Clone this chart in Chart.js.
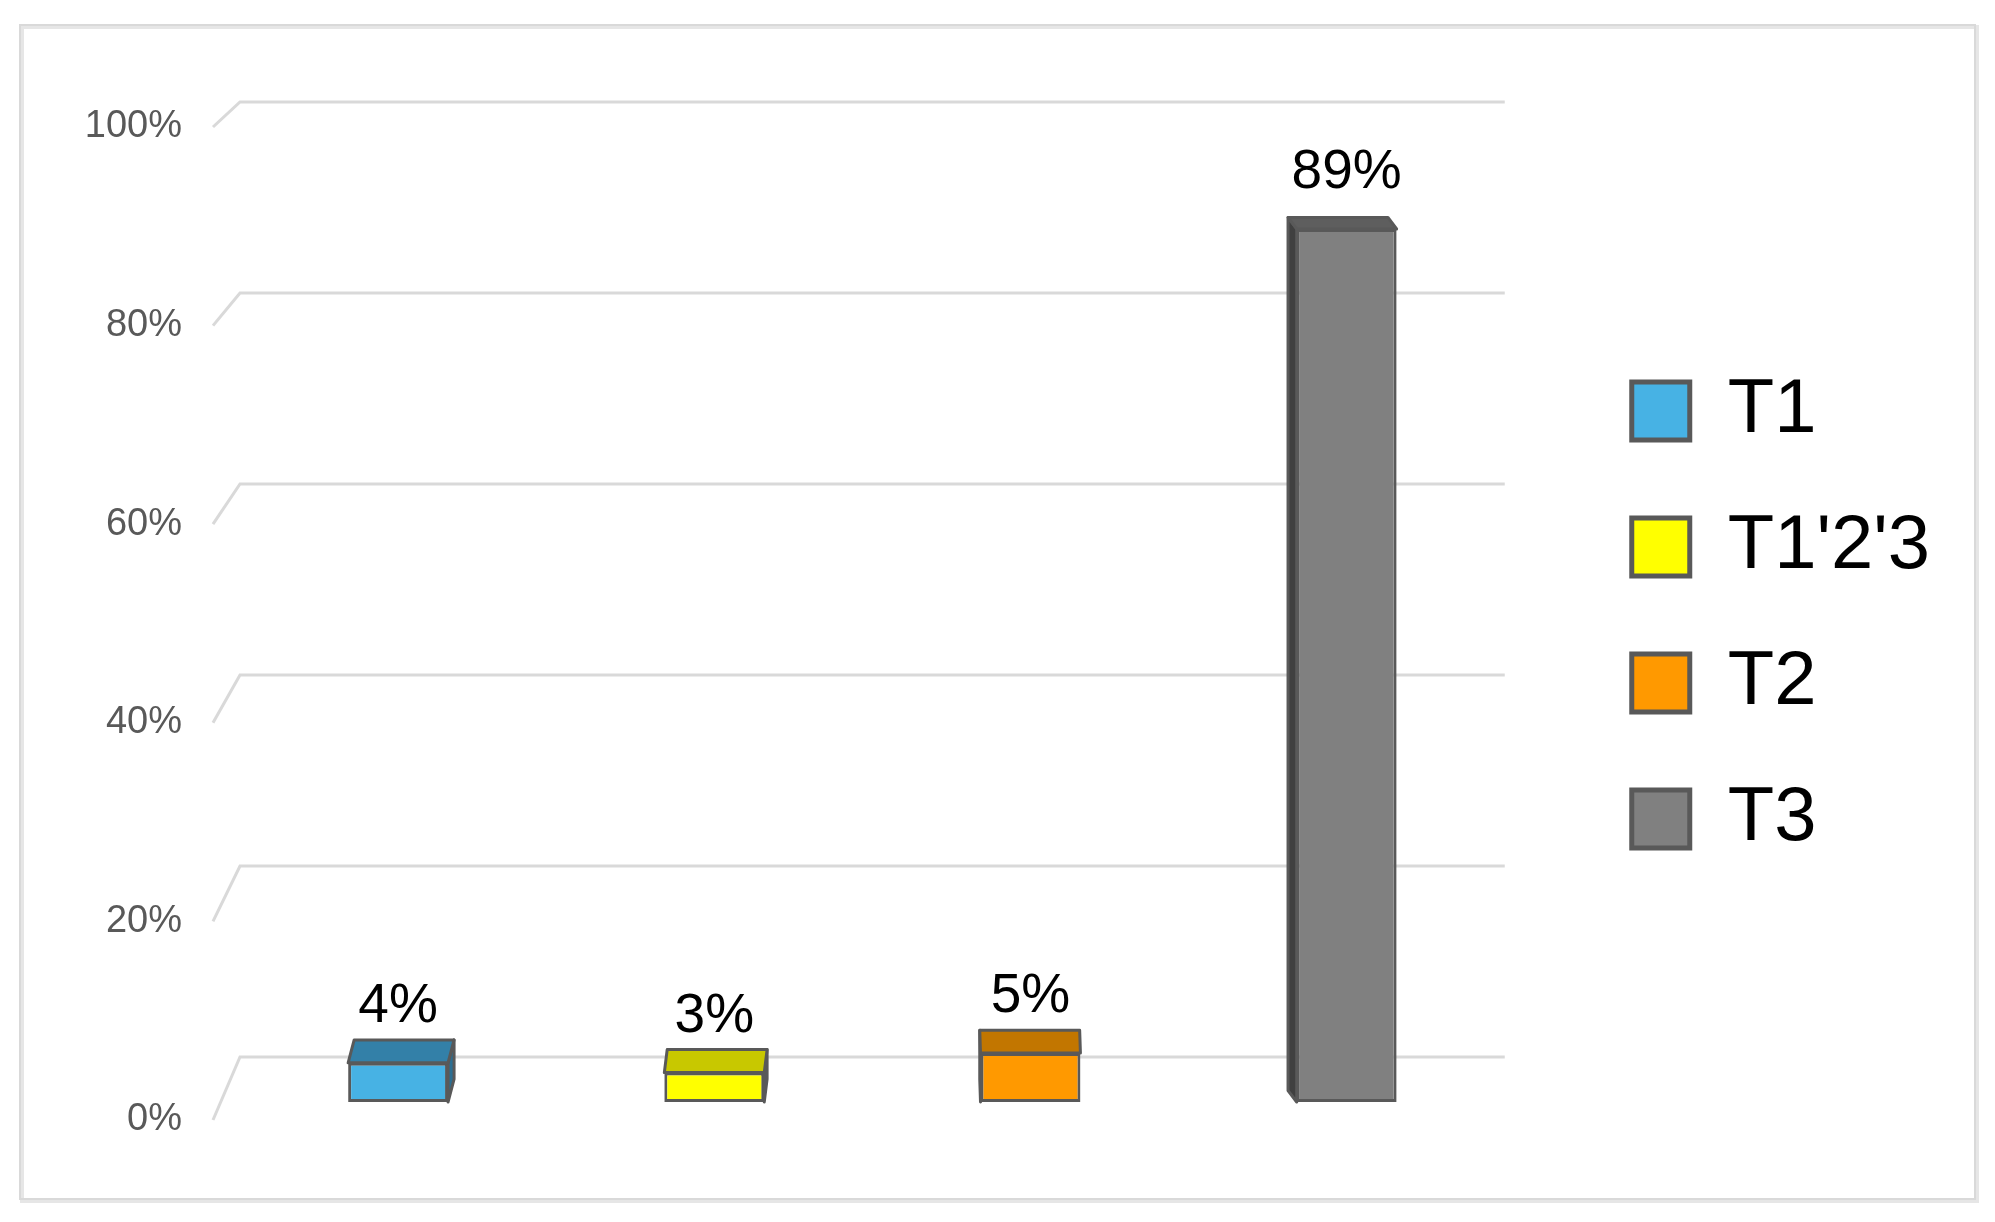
<!DOCTYPE html>
<html><head><meta charset="utf-8">
<script src="https://cdn.jsdelivr.net/npm/chart.js@4.4.1/dist/chart.umd.min.js"></script>
<style>html,body{margin:0;padding:0;background:#fff;overflow:hidden}#wrap{position:relative;width:1995px;height:1222px}</style>
</head><body><div id="wrap"><canvas id="c"></canvas></div>
<script>
// ---- data ----
const categories = ["T1", "T1'2'3", "T2", "T3"];
const values = [4, 3, 5, 89];
const tickValues = [0, 20, 40, 60, 80, 100];

// ---- styles ----
const frontColors = ['#47B2E4', '#FFFF00', '#FF9900', '#808080'];
const topColors = ['#3380A8', '#C8C800', '#C27600', '#5E5E5E'];
const sideColors = ['#2B6E92', '#A8A800', '#A86400', '#404040'];
const edge = '#595959';
const gridColor = '#d9d9d9';

const depthPlugin = {
  id: 'depth',
  beforeDraw(chart) {
    const ctx = chart.ctx;
    ctx.save();
    ctx.fillStyle = '#fff';
    ctx.fillRect(0, 0, chart.width, chart.height);
    ctx.strokeStyle = '#e6e6e6';
    ctx.lineWidth = 4;
    ctx.strokeRect(22, 27, 1955, 1174);
    ctx.strokeStyle = gridColor;
    ctx.lineWidth = 2;
    ctx.strokeRect(20, 25, 1955, 1174);
    ctx.restore();
  },
  beforeDatasetsDraw(chart) {
    const ctx = chart.ctx;
    const yl = chart.scales.yl, yb = chart.scales.y2;
    const left = chart.chartArea.left, right = chart.chartArea.right;
    ctx.save();
    ctx.strokeStyle = gridColor;
    ctx.lineWidth = 3;
    tickValues.forEach(v => {
      const yBack = yb.getPixelForValue(v);
      ctx.beginPath();
      ctx.moveTo(left - 27, yl.getPixelForValue(v));
      ctx.lineTo(left, yBack);
      ctx.lineTo(right, yBack);
      ctx.stroke();
    });
    ctx.restore();
  },
  afterDatasetsDraw(chart) {
    const ctx = chart.ctx;
    const meta = chart.getDatasetMeta(0);
    ctx.save();
    meta.data.forEach((bar, i) => {
      const p = bar.getProps(['x', 'y', 'base', 'width'], true);
      const xl = p.x - p.width / 2, xr = p.x + p.width / 2;
      const dy = 8.3 + 0.0137 * p.y;
      const dx = p.x < 1000 ? (1000 - p.x) * 0.01 : (1000 - p.x) * 0.025;
      ctx.lineWidth = 3;
      ctx.strokeStyle = edge;
      ctx.lineJoin = 'round';
      // side face
      const sx = dx >= 0 ? xr : xl;
      ctx.beginPath();
      ctx.moveTo(sx, p.y);
      ctx.lineTo(sx + dx, p.y - dy);
      ctx.lineTo(sx + dx, p.base - dy);
      ctx.lineTo(sx, p.base);
      ctx.closePath();
      ctx.fillStyle = sideColors[i];
      ctx.fill();
      ctx.stroke();
      // top face
      ctx.beginPath();
      ctx.moveTo(xl, p.y);
      ctx.lineTo(xr, p.y);
      ctx.lineTo(xr + dx, p.y - dy);
      ctx.lineTo(xl + dx, p.y - dy);
      ctx.closePath();
      ctx.fillStyle = topColors[i];
      ctx.fill();
      ctx.stroke();
      // data label
      ctx.fillStyle = '#000';
      ctx.font = '55px "Liberation Sans", Arial, sans-serif';
      ctx.textAlign = 'center';
      ctx.textBaseline = 'alphabetic';
      ctx.fillText(values[i] + '%', p.x, p.y - 41);
    });
    ctx.restore();
  }
};

const setTicks = s => { s.ticks = tickValues.map(v => ({ value: v })); };

new Chart(document.getElementById('c'), {
  type: 'bar',
  data: {
    labels: categories,
    datasets: [{
      data: values,
      backgroundColor: frontColors,
      borderColor: edge,
      borderWidth: 3,
      borderSkipped: false,
      categoryPercentage: 1,
      barPercentage: 0.316
    }]
  },
  options: {
    responsive: true,
    maintainAspectRatio: false,
    animation: false,
    layout: { padding: { left: 20, right: 55, top: 100, bottom: 92 } },
    plugins: {
      tooltip: { enabled: false },
      legend: {
        position: 'right',
        onClick: null,
        labels: {
          boxWidth: 58,
          boxHeight: 58,
          padding: 60,
          color: '#000',
          font: { family: 'Liberation Sans', size: 76 },
          generateLabels: () => categories.map((c, i) => ({
            text: c, fillStyle: frontColors[i], strokeStyle: edge, lineWidth: 5,
            hidden: false, index: i, fontColor: '#000'
          }))
        }
      }
    },
    scales: {
      x: { type: 'category', display: false },
      y: { display: false, min: -2.854, max: 102.14 },
      yl: {
        position: 'left', min: -1.007, max: 102.72,
        afterFit: s => { s.width = 220; },
        afterBuildTicks: setTicks,
        grid: { display: false, drawTicks: false },
        border: { display: false },
        ticks: {
          padding: 58, color: '#595959',
          font: { family: 'Liberation Sans', size: 38 },
          callback: v => v + '%'
        }
      },
      y2: {
        display: false,
        position: 'right', min: -7.644, max: 100.21,
        afterFit: s => { s.width = 67; },
        afterBuildTicks: setTicks
      }
    }
  },
  plugins: [depthPlugin]
});
</script>
</body></html>
